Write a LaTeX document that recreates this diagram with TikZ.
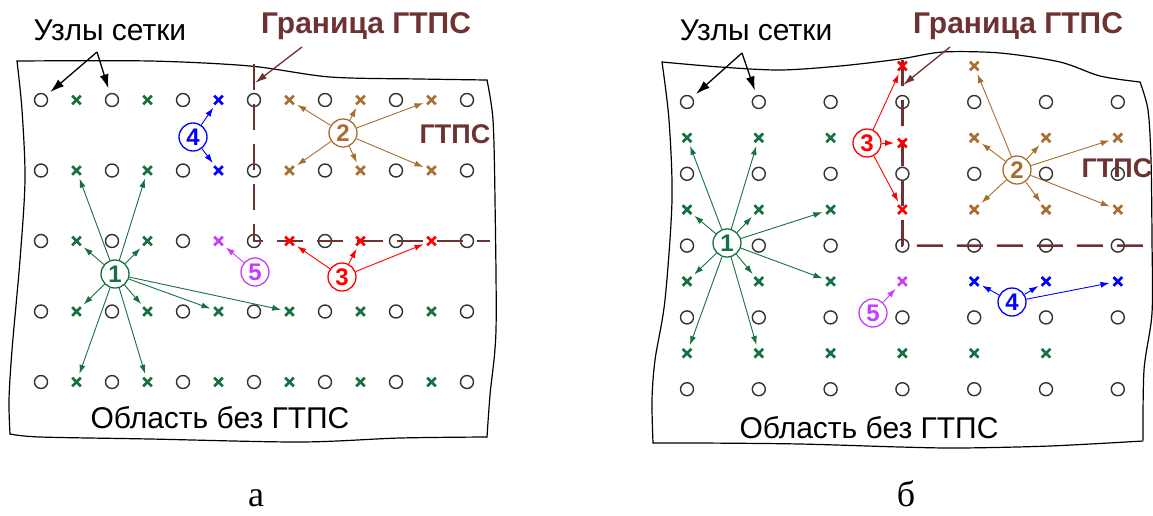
\documentclass[tikz,border=0pt]{standalone}
\usepackage{fontspec}
\setmainfont{Liberation Sans}
\newfontfamily\capfont{Liberation Serif}
\usetikzlibrary{shapes.misc,arrows.meta}
\definecolor{cgreen}{RGB}{22,112,64}
\definecolor{corange}{RGB}{168,110,48}
\definecolor{cred}{RGB}{255,0,0}
\definecolor{cblue}{RGB}{0,0,255}
\definecolor{cmag}{RGB}{200,60,255}
\definecolor{bord}{RGB}{110,50,50}
\definecolor{gridgray}{RGB}{50,50,50}
\begin{document}
\begin{tikzpicture}[x=1pt,y=-1pt,
  gc/.style={circle,draw=gridgray,line width=1.4pt,minimum size=13pt,inner sep=0pt},
  cr/.style={cross out,draw=#1,line width=2.7pt,minimum size=6pt,inner sep=0pt},
  num/.style={circle,draw=#1,text=#1,line width=1.3pt,minimum size=28pt,inner sep=0pt,font=\fontsize{24}{24}\selectfont\bfseries},
  arr/.style={draw=#1,-{Latex[length=9pt,width=6pt]},line width=0.9pt,shorten >=4pt},
  lbl/.style={font=\fontsize{30}{32}\selectfont,anchor=base,inner sep=0pt},
  blbl/.style={font=\fontsize{30}{32}\selectfont\bfseries,text=bord,anchor=base,inner sep=0pt},
  bline/.style={draw=bord,line width=2.7pt,dash pattern=on 26pt off 14pt},
  outline/.style={draw=black,line width=1.2pt,line cap=round,line join=round},
  karr/.style={-{Latex[length=14pt,width=9pt]},line width=1.3pt,shorten >=5pt},
  garr/.style={draw=bord,-{Latex[length=12pt,width=7pt]},line width=1.3pt},
  caplbl/.style={font=\capfont\fontsize{36}{38}\selectfont,anchor=base,inner sep=0pt}
]
\useasboundingbox (0,0) rectangle (1153,515);

% ================= panel a =================
\draw[outline] plot[smooth] coordinates {(17,61) (150,61) (250,66) (330,77) (420,79) (487,80)};
\draw[outline] plot[smooth] coordinates {(487,80) (493,120) (495,200) (496,330) (490,395) (487,437)};
\draw[outline] plot[smooth] coordinates {(487,437) (400,438) (300,442) (150,439) (40,437) (10,434)};
\draw[outline] plot[smooth] coordinates {(10,434) (9,400) (12,350) (20,260) (25,180) (22,110) (17,61)};

\foreach \i in {1,...,7}
  \foreach \j in {1,...,5}
    \node[gc] (ac\i\j) at ({41+71*(\i-1)},{100+70.5*(\j-1)}) {};

\coordinate (aTop) at (254,64);
\coordinate (aEnd) at (490,241);
\draw[bline] (aTop) -- (ac43.center) -- (aEnd);

\foreach \k/\j/\c in {1/1/cgreen,2/1/cgreen,3/1/cblue,4/1/corange,5/1/corange,6/1/corange,
  1/2/cgreen,2/2/cgreen,3/2/cblue,4/2/corange,5/2/corange,6/2/corange,
  1/3/cgreen,2/3/cgreen,3/3/cmag,4/3/cred,5/3/cred,6/3/cred,
  1/4/cgreen,2/4/cgreen,3/4/cgreen,4/4/cgreen,5/4/cgreen,6/4/cgreen,
  1/5/cgreen,2/5/cgreen,3/5/cgreen,4/5/cgreen,5/5/cgreen,6/5/cgreen}
  \node[cr=\c] (ax\k\j) at ({76.5+71*(\k-1)},{100+70.5*(\j-1)}) {};

\node[num=cgreen] (a1) at (115,274) {1};
\node[num=corange] (a2) at (343,133) {2};
\node[num=cred] (a3) at (342,277) {3};
\node[num=cblue] (a4) at (193,137) {4};
\node[num=cmag] (a5) at (255,272) {5};

\foreach \t in {ax12,ax22,ax13,ax23,ax14,ax24,ax34,ax44,ax15,ax25}
  \draw[arr=cgreen] (a1) -- (\t);
\foreach \t in {ax41,ax51,ax61,ax42,ax52,ax62}
  \draw[arr=corange] (a2) -- (\t);
\foreach \t in {ax43,ax53,ax63}
  \draw[arr=cred] (a3) -- (\t);
\foreach \t in {ax31,ax32}
  \draw[arr=cblue] (a4) -- (\t);
\draw[arr=cmag] (a5) -- (ax33);

\node[lbl] (aUz) at (110,40) {Узлы сетки};
\coordinate (aApex) at (97,52);
\draw[karr] (aApex) -- (ac11);
\draw[karr] (aApex) -- (ac21);

\node[blbl] (aGr) at (366,33) {Граница ГТПС};
\coordinate (aGs) at (302,47);
\coordinate (aGe) at (255,83);
\draw[garr] (aGs) -- (aGe);

\node[blbl,font=\fontsize{27}{29}\selectfont\bfseries] (aGT) at (455,143) {ГТПС};
\node[lbl] (aObl) at (220,428) {Область без ГТПС};
\node[caplbl] (aCap) at (256,506) {а};

% ================= panel b =================
\draw[outline] plot[smooth] coordinates {(662,62) (720,67) (780,70) (840,66) (900,59) (943,52) (1000,53) (1060,62) (1100,76) (1140,82)};
\draw[outline] plot[smooth] coordinates {(1140,82) (1148,110) (1151,160) (1152,240) (1152,313) (1144,370) (1143,440)};
\draw[outline] plot[smooth] coordinates {(1143,441) (1050,446) (960,448) (900,447) (800,444) (700,443) (653,443)};
\draw[outline] plot[smooth] coordinates {(653,443) (652,400) (655,360) (665,300) (672,200) (669,120) (662,62)};

\foreach \i in {1,...,7}
  \foreach \j in {1,...,5}
    \node[gc] (bc\i\j) at ({687+71.8*(\i-1)},{102+71.8*(\j-1)}) {};

\coordinate (bTop) at (902.4,60);
\coordinate (bEnd) at (1153,245.6);
\draw[bline] (bTop) -- (bc43.center) -- (bEnd);

\foreach \k/\j/\c in {4/1/cred,5/1/corange,
  1/2/cgreen,2/2/cgreen,3/2/cgreen,5/2/corange,6/2/corange,7/2/corange,
  1/3/cgreen,2/3/cgreen,3/3/cgreen,4/3/cred,5/3/corange,6/3/corange,7/3/corange,
  1/4/cgreen,2/4/cgreen,3/4/cgreen,4/4/cmag,5/4/cblue,6/4/cblue,7/4/cblue,
  1/5/cgreen,2/5/cgreen,3/5/cgreen,4/5/cgreen,5/5/cgreen,6/5/cgreen}
  \node[cr=\c] (bx\k\j) at ({687+71.8*(\k-1)},{66+71.8*(\j-1)}) {};
\node[cr=cred] (bx42) at (902.4,143) {};

\node[num=cgreen] (b1) at (727,243) {1};
\node[num=corange] (b2) at (1017,170) {2};
\node[num=cred] (b3) at (867,143) {3};
\node[num=cblue] (b4) at (1012,302) {4};
\node[num=cmag] (b5) at (873,313) {5};

\foreach \t in {bx12,bx22,bx13,bx23,bx33,bx14,bx24,bx34,bx15,bx25}
  \draw[arr=cgreen] (b1) -- (\t);
\foreach \t in {bx51,bx52,bx62,bx72,bx53,bx63,bx73}
  \draw[arr=corange] (b2) -- (\t);
\foreach \t in {bx41,bx42,bx43}
  \draw[arr=cred] (b3) -- (\t);
\foreach \t in {bx54,bx64,bx74}
  \draw[arr=cblue] (b4) -- (\t);
\draw[arr=cmag] (b5) -- (bx44);

\node[lbl] (bUz) at (756,40) {Узлы сетки};
\coordinate (bApex) at (742,53);
\draw[karr] (bApex) -- (bc11);
\draw[karr] (bApex) -- (bc21);

\node[blbl] (bGr) at (1018,33) {Граница ГТПС};
\coordinate (bGs) at (950,47);
\coordinate (bGe) at (903,85);
\draw[garr] (bGs) -- (bGe);

\node[blbl,font=\fontsize{27}{29}\selectfont\bfseries] (bGT) at (1117,177) {ГТПС};
\node[lbl] (bObl) at (869,438) {Область без ГТПС};
\node[caplbl] (bCap) at (906,506) {б};
\end{tikzpicture}
\end{document}
